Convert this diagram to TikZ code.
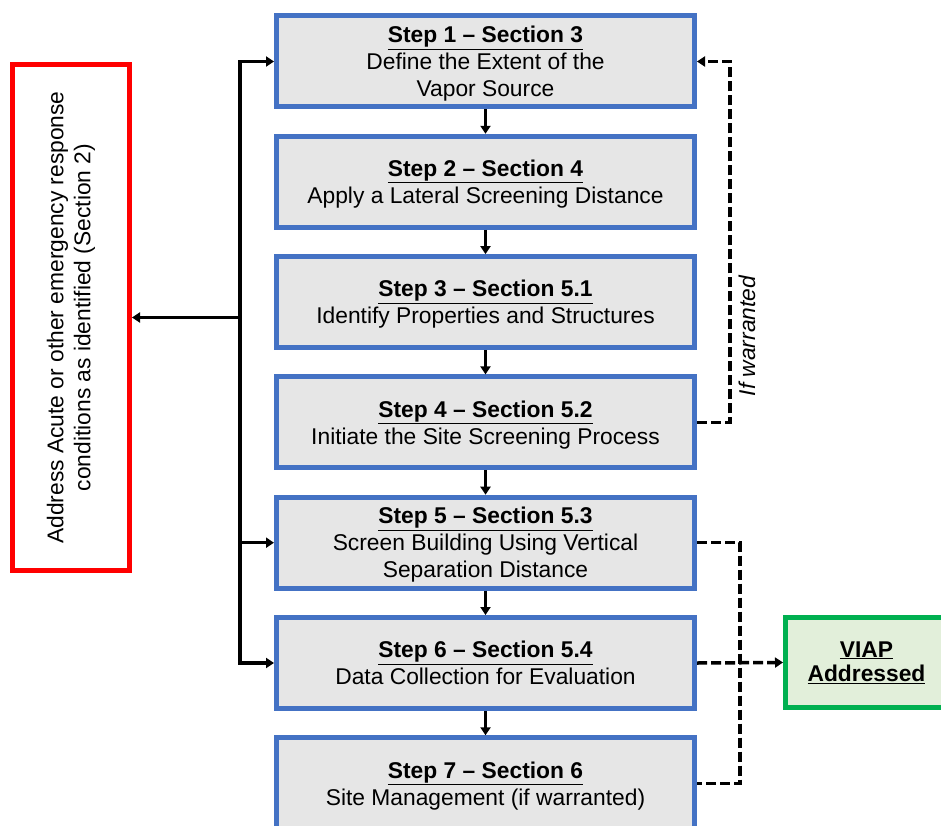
\documentclass[tikz,border=0pt]{standalone}
\usepackage{fontspec}
\setmainfont{Liberation Sans}
\usetikzlibrary{positioning,arrows.meta}

\definecolor{stepblue}{HTML}{4472C4}
\definecolor{stepfill}{HTML}{E6E6E6}
\definecolor{donegreen}{HTML}{00B050}
\definecolor{donefill}{HTML}{E2EFDA}
\newcommand{\steptitle}[1]{\underline{\textbf{#1}}}

\begin{document}
\begin{tikzpicture}[
        x=1pt, y=1pt,
        font=\fontsize{22.8}{27}\selectfont,
        stepbox/.style={draw=stepblue, fill=stepfill, line width=5pt, minimum width=418pt, minimum height=91pt, inner sep=0pt, align=center, text depth=-3pt},
        alertbox/.style={draw=red, line width=5pt, minimum width=506pt, minimum height=117pt, inner sep=0pt, align=center, rotate=90},
        donebox/.style={draw=donegreen, fill=donefill, line width=5pt, minimum width=162pt, minimum height=90pt, inner sep=0pt, align=center, font=\fontsize{22.8}{24}\selectfont},
        tip/.style={-{Triangle[length=8pt, width=10pt]}},
        flow/.style={line width=3.5pt, tip},
        bus/.style={line width=3.5pt, line cap=rect},
        maybe/.style={line width=3.5pt, dash pattern=on 10pt off 4pt}
    ]

    \useasboundingbox (0,0) rectangle (941,-826);

    \node[stepbox] (s1) at (485.5,-61.5) {\steptitle{Step 1 – Section 3}\\Define the Extent of the\\Vapor Source};
    \node[stepbox, below=24.3pt of s1] (s2) {\steptitle{Step 2 – Section 4}\\Apply a Lateral Screening Distance};
    \node[stepbox, below=24.3pt of s2] (s3) {\steptitle{Step 3 – Section 5.1}\\Identify Properties and Structures};
    \node[stepbox, below=24.3pt of s3] (s4) {\steptitle{Step 4 – Section 5.2}\\Initiate the Site Screening Process};
    \node[stepbox, below=24.3pt of s4] (s5) {\steptitle{Step 5 – Section 5.3}\\Screen Building Using Vertical\\Separation Distance};
    \node[stepbox, below=24.3pt of s5] (s6) {\steptitle{Step 6 – Section 5.4}\\Data Collection for Evaluation};
    \node[stepbox, below=24.3pt of s6] (s7) {\steptitle{Step 7 – Section 6}\\Site Management (if warranted)};

    \node[alertbox] (alert) at (71,-317.5) {Address Acute or other emergency response\\conditions as identified (Section 2)};
    \node[donebox] (viap) at (866.5,-662.5) {\steptitle{VIAP}\\\steptitle{Addressed}};

    \foreach \a/\b in {s1/s2, s2/s3, s3/s4, s4/s5, s5/s6, s6/s7}
        \draw[flow] (\a) -- (\b);

    % bus on the left
    \coordinate (bus) at (240,0);
    \draw[bus] (bus |- s1.west) -- (bus |- s6.west);
    \draw[flow] (bus |- s1.west) -- (s1.west);
    \draw[flow] (bus |- s5.west) -- (s5.west);
    \draw[flow] (bus |- s6.west) -- (s6.west);
    \draw[flow] (bus |- alert.south) -- (alert.south);

    % loop back to step 1
    \coordinate (back) at (730,0);
    \draw[maybe, tip] (s4.east) -- (s4.east -| back) -- (s1.east -| back) -- (s1.east);
    \node[rotate=90] (iflabel) at (747,-336) {\itshape If warranted};

    % exits to VIAP
    \coordinate (done) at (740,0);
    \draw[maybe] (s5.east) -- (s5.east -| done) -- (s7.east -| done) -- (s7.east);
    \draw[maybe, tip] (s6.east) -- (viap.west);
\end{tikzpicture}
\end{document}
